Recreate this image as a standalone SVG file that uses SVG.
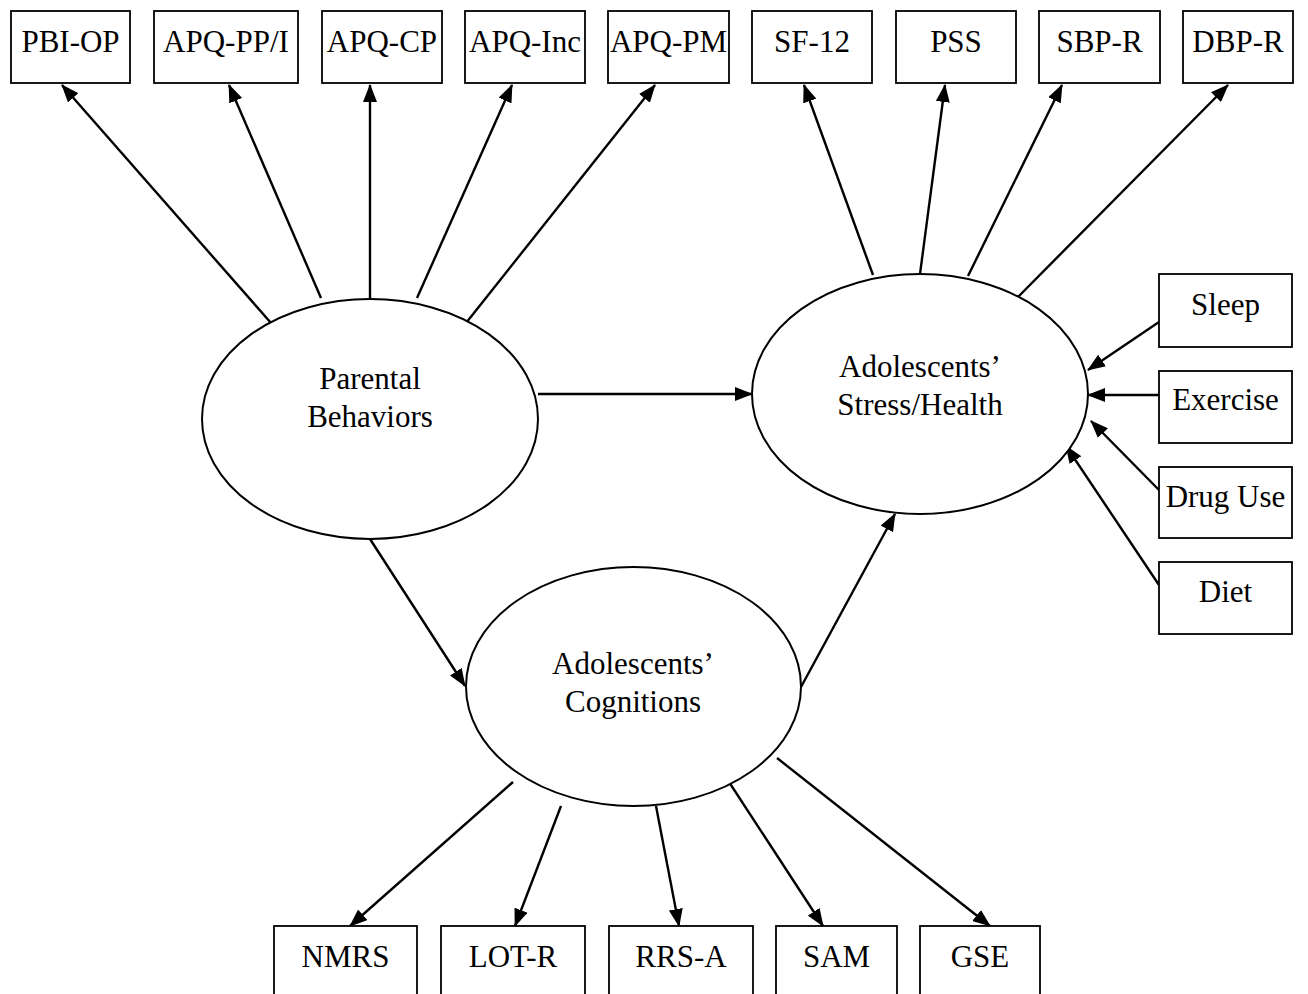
<svg xmlns="http://www.w3.org/2000/svg" width="1308" height="994" viewBox="0 0 1308 994">
<style>
.box{fill:#fff;stroke:#000;stroke-width:1.8}
.ell{fill:#fff;stroke:#000;stroke-width:2}
.t{font-family:"Liberation Serif","Times New Roman",serif;font-size:31px;fill:#000;text-anchor:middle}
.c line{stroke:#000;stroke-width:2.4;marker-end:url(#ah)}
</style>
<defs>
<marker id="ah" markerUnits="userSpaceOnUse" markerWidth="18" markerHeight="14" viewBox="0 0 18 14" refX="17" refY="7" orient="auto">
<path d="M0,0 L18,7 L0,14 z" fill="#000"/>
</marker>
</defs>
<rect width="1308" height="994" fill="#fff"/>
<g class="c" id="connectors">
<line x1="271" y1="323" x2="62" y2="85"/>
<line x1="321" y1="298" x2="229" y2="85"/>
<line x1="370" y1="298" x2="370" y2="85"/>
<line x1="417" y1="298" x2="512" y2="85"/>
<line x1="466" y1="323" x2="655" y2="85"/>
<line x1="873" y1="275" x2="804" y2="85"/>
<line x1="920" y1="274" x2="945" y2="85"/>
<line x1="968" y1="276" x2="1062" y2="85"/>
<line x1="1017" y1="298" x2="1228" y2="85"/>
<line x1="1159" y1="322" x2="1088" y2="370"/>
<line x1="1159" y1="395" x2="1088" y2="395"/>
<line x1="1159" y1="490" x2="1091" y2="421"/>
<line x1="1159" y1="585" x2="1066" y2="446"/>
<line x1="538" y1="394" x2="752" y2="394"/>
<line x1="370" y1="539" x2="465" y2="686"/>
<line x1="801" y1="687" x2="895" y2="514"/>
<line x1="513" y1="782" x2="350" y2="926"/>
<line x1="561" y1="806" x2="515" y2="926"/>
<line x1="656" y1="806" x2="679" y2="926"/>
<line x1="729" y1="782" x2="823" y2="926"/>
<line x1="777" y1="758" x2="990" y2="926"/>
</g>
<g id="n-pbiop"><rect class="box" x="11" y="11" width="119" height="72"/><text class="t" x="70.5" y="52">PBI-OP</text></g>
<g id="n-apqppi"><rect class="box" x="154" y="11" width="144" height="72"/><text class="t" x="226" y="52">APQ-PP/I</text></g>
<g id="n-apqcp"><rect class="box" x="322" y="11" width="120" height="72"/><text class="t" x="382" y="52">APQ-CP</text></g>
<g id="n-apqinc"><rect class="box" x="465" y="11" width="120" height="72"/><text class="t" x="525" y="52">APQ-Inc</text></g>
<g id="n-apqpm"><rect class="box" x="608" y="11" width="121" height="72"/><text class="t" x="668.5" y="52">APQ-PM</text></g>
<g id="n-sf12"><rect class="box" x="752" y="11" width="120" height="72"/><text class="t" x="812" y="52">SF-12</text></g>
<g id="n-pss"><rect class="box" x="896" y="11" width="120" height="72"/><text class="t" x="956" y="52">PSS</text></g>
<g id="n-sbpr"><rect class="box" x="1039" y="11" width="121" height="72"/><text class="t" x="1099.5" y="52">SBP-R</text></g>
<g id="n-dbpr"><rect class="box" x="1183" y="11" width="110" height="72"/><text class="t" x="1238" y="52">DBP-R</text></g>
<g id="n-sleep"><rect class="box" x="1159" y="274" width="133" height="73"/><text class="t" x="1225.5" y="315">Sleep</text></g>
<g id="n-exercise"><rect class="box" x="1159" y="371" width="133" height="72"/><text class="t" x="1225.5" y="410">Exercise</text></g>
<g id="n-druguse"><rect class="box" x="1159" y="467" width="133" height="71"/><text class="t" x="1225.5" y="507">Drug Use</text></g>
<g id="n-diet"><rect class="box" x="1159" y="562" width="133" height="72"/><text class="t" x="1225.5" y="602">Diet</text></g>
<g id="n-nmrs"><rect class="box" x="274" y="926" width="143" height="80"/><text class="t" x="345.5" y="967">NMRS</text></g>
<g id="n-lotr"><rect class="box" x="441" y="926" width="144" height="80"/><text class="t" x="513" y="967">LOT-R</text></g>
<g id="n-rrsa"><rect class="box" x="609" y="926" width="144" height="80"/><text class="t" x="681" y="967">RRS-A</text></g>
<g id="n-sam"><rect class="box" x="776" y="926" width="121" height="80"/><text class="t" x="836.5" y="967">SAM</text></g>
<g id="n-gse"><rect class="box" x="920" y="926" width="120" height="80"/><text class="t" x="980" y="967">GSE</text></g>
<g id="n-parental"><ellipse class="ell" cx="370" cy="419" rx="168" ry="120"/><text class="t" x="370" y="389">Parental</text><text class="t" x="370" y="427">Behaviors</text></g>
<g id="n-stress"><ellipse class="ell" cx="920" cy="394" rx="168" ry="120"/><text class="t" x="920" y="377">Adolescents’</text><text class="t" x="920" y="415">Stress/Health</text></g>
<g id="n-cognitions"><ellipse class="ell" cx="633.5" cy="686.5" rx="167.5" ry="119.5"/><text class="t" x="633" y="674">Adolescents’</text><text class="t" x="633" y="712">Cognitions</text></g>
</svg>
